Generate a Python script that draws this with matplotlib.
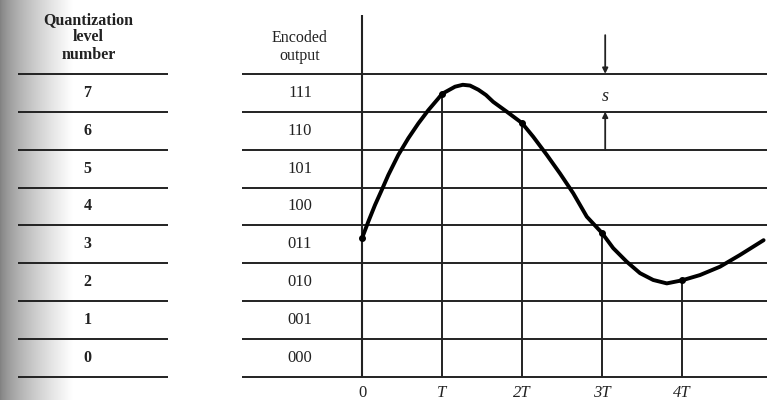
import numpy as np
import matplotlib
matplotlib.use("Agg")
import matplotlib.pyplot as plt

# ---- data ----
levels = [0, 1, 2, 3, 4, 5, 6, 7]
level_numbers = ["0", "1", "2", "3", "4", "5", "6", "7"]
codes = ["000", "001", "010", "011", "100", "101", "110", "111"]
header_left = ["Quantization", "level", "number"]
header_mid = ["Encoded", "output"]
sample_t = [0, 1, 2, 3, 4]
sample_labels = ["0", "T", "2T", "3T", "4T"]
sample_vals = [3.66, 7.47, 6.70, 3.80, 2.55]
curve_t = [0.0, 0.079, 0.163, 0.246, 0.329, 0.454, 0.579, 0.704, 0.829, 0.954, 1.0,
           1.163, 1.26, 1.35, 1.454, 1.55, 1.64, 1.81, 2.0, 2.14, 2.31, 2.475, 2.64,
           2.81, 3.0, 3.14, 3.31, 3.475, 3.64, 3.81, 4.0, 4.225, 4.475, 4.725, 5.02]
curve_v = [3.66, 4.10, 4.54, 4.93, 5.33, 5.86, 6.30, 6.69, 7.04, 7.35, 7.47,
           7.66, 7.71, 7.69, 7.58, 7.44, 7.26, 7.0, 6.70, 6.34, 5.86, 5.37, 4.85,
           4.23, 3.80, 3.40, 3.04, 2.74, 2.56, 2.47, 2.55, 2.69, 2.91, 3.22, 3.61]
step_label = "s"

# ---- figure ----
W, H = 771, 400
fig = plt.figure(figsize=(W / 100, H / 100), dpi=100)
ax = fig.add_axes([0, 0, 1, 1])
ax.set_xlim(-362 / 80, (W - 362) / 80)
ax.set_ylim(-23 / 37.9, (H - 23) / 37.9)
ax.axis("off")

ink = "#222222"
serif = ["Liberation Serif", "DejaVu Serif"]

# scan shadow on the left edge
grad = np.linspace(0, 1, 200)
shade = np.clip(0.5 + 0.5 * grad ** 0.7, 0, 1)
img = np.tile(shade, (10, 1))
ax.imshow(img, cmap="gray", vmin=0, vmax=1, extent=(-362 / 80, -3.62, -0.607, 9.95),
          aspect="auto", zorder=0, interpolation="bilinear")

nlev = len(levels)
bounds = list(range(nlev + 1))

# left table rules
ax.hlines(bounds, -4.3, -2.42, color=ink, lw=1.4, zorder=2)
# middle / main rules
ax.hlines(bounds, -1.5, 5.06, color=ink, lw=1.4, zorder=2)

for lv, num, code in zip(levels, level_numbers, codes):
    ax.text(-3.43, lv + 0.5, num, ha="center", va="center", fontsize=11.5,
            family=serif, color=ink, fontweight="bold")
    ax.text(-0.775, lv + 0.5, code, ha="center", va="center", fontsize=12,
            family=serif, color=ink)

for i, s in enumerate(header_left):
    ax.text(-3.42, 9.42 - i * 0.46, s, ha="center", va="center", fontsize=11.5,
            family=serif, color=ink, fontweight="bold")
for i, s in enumerate(header_mid):
    ax.text(-0.775, 8.94 - i * 0.46, s, ha="center", va="center", fontsize=11.5,
            family=serif, color=ink)

# vertical axis
ax.vlines(0, 0, 9.55, color=ink, lw=1.5, zorder=2)
# sample verticals
ax.vlines(sample_t[1:], 0, sample_vals[1:], color=ink, lw=1.4, zorder=2)

# curve
ax.plot(curve_t, curve_v, color="black", lw=2.8, solid_capstyle="round",
        solid_joinstyle="round", zorder=4)
ax.plot(sample_t, sample_vals, "o", color="black", ms=4, zorder=5)

# sample labels
for t, lab in zip(sample_t, sample_labels):
    ax.text(t, -0.42, lab, ha="center", va="center", fontsize=12, family=serif,
            style="italic" if "T" in lab else "normal", color=ink)

# step-size annotation
xs = 3.04
ax.annotate("", xy=(xs, 8.0), xytext=(xs, 9.02),
            arrowprops=dict(arrowstyle="-|>", color=ink, lw=1.3, mutation_scale=8,
                            shrinkA=0, shrinkB=0), zorder=3)
ax.annotate("", xy=(xs, 7.0), xytext=(xs, 6.0),
            arrowprops=dict(arrowstyle="-|>", color=ink, lw=1.3, mutation_scale=8,
                            shrinkA=0, shrinkB=0), zorder=3)
ax.text(xs, 7.4, step_label, ha="center", va="center", fontsize=13, family=serif,
        style="italic", color=ink)

fig.savefig("out.png", dpi=100)
